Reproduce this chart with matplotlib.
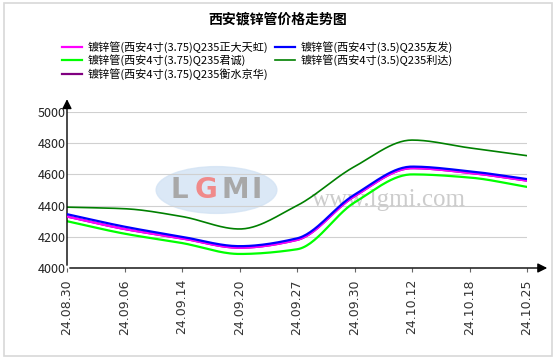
import numpy as np
import matplotlib.pyplot as plt
from matplotlib.patches import Ellipse, Rectangle

plt.rcParams['font.family'] = ['Noto Sans CJK SC', 'DejaVu Sans']

dates = ['24.08.30', '24.09.06', '24.09.14', '24.09.20', '24.09.27',
         '24.09.30', '24.10.12', '24.10.18', '24.10.25']
zhengda = [4330, 4250, 4190, 4130, 4180, 4460, 4640, 4610, 4560]
youfa = [4345, 4265, 4200, 4140, 4190, 4470, 4650, 4620, 4570]
juncheng = [4300, 4220, 4160, 4090, 4120, 4420, 4600, 4580, 4520]
lida = [4390, 4380, 4330, 4250, 4400, 4650, 4820, 4770, 4720]
jinghua = [4330, 4250, 4190, 4130, 4180, 4460, 4640, 4610, 4560]

names = ['镀锌管(西安4寸(3.75)Q235正大天虹)', '镀锌管(西安4寸(3.5)Q235友发)',
         '镀锌管(西安4寸(3.75)Q235君诚)', '镀锌管(西安4寸(3.5)Q235利达)',
         '镀锌管(西安4寸(3.75)Q235衡水京华)']
colors = ['#ff00ff', '#0000ff', '#00ff00', '#008000', '#800080']


def smooth(y, n=30):
    # monotone cubic hermite, just for drawing the curve between points
    y = np.asarray(y, float)
    x = np.arange(len(y))
    d = np.diff(y)
    m = np.zeros(len(y))
    m[0], m[-1] = d[0], d[-1]
    for i in range(1, len(y) - 1):
        if d[i - 1] * d[i] > 0:
            m[i] = 2 / (1 / d[i - 1] + 1 / d[i])
    xs, ys = [], []
    for i in range(len(y) - 1):
        t = np.linspace(0, 1, n, endpoint=False)
        h00 = 2 * t**3 - 3 * t**2 + 1
        h10 = t**3 - 2 * t**2 + t
        h01 = -2 * t**3 + 3 * t**2
        h11 = t**3 - t**2
        xs.append(x[i] + t)
        ys.append(h00 * y[i] + h10 * m[i] + h01 * y[i + 1] + h11 * m[i + 1])
    xs.append([x[-1]])
    ys.append([y[-1]])
    return np.concatenate(xs), np.concatenate(ys)


fig = plt.figure(figsize=(5.56, 3.59), dpi=100)
fig.patches.append(Rectangle((4 / 556, 3 / 359), 548 / 556, 353 / 359, transform=fig.transFigure,
                             fill=False, ec='#d8d8d8', lw=1.2))
ax = fig.add_axes([67 / 556, (359 - 268) / 359, 460 / 556, 156 / 359])

# watermark
ax.add_patch(Ellipse((2.6, 4500), 2.1, 300, color='#d3e3f4', alpha=0.8, zorder=0))
wm = [('L', '#a8a8a8', 1.95), ('G', '#f08a8a', 2.42), ('M', '#a8a8a8', 2.92), ('I', '#a8a8a8', 3.3)]
for ch, c, xp in wm:
    ax.text(xp, 4500, ch, ha='center', va='center', fontsize=20, color=c,
            family='DejaVu Sans', weight='bold', zorder=0)
ax.text(5.6, 4435, 'www.lgmi.com', ha='center', va='center', fontsize=18, color='#cccccc',
        family='Liberation Serif', zorder=0)

series = [zhengda, youfa, juncheng, lida, jinghua]
handles = []
for vals, name, c, z in zip(series, names, colors, [4, 5, 3, 3, 2]):
    xs, ys = smooth(vals)
    h, = ax.plot(xs, ys, color=c, lw=1.2 if c == '#008000' else 1.6, label=name, zorder=z)
    handles.append(h)

ax.set_xlim(0, 8)
ax.set_ylim(4000, 5000)
ax.set_yticks(range(4000, 5001, 200))
ax.grid(axis='y', color='#d0d0d0', lw=0.8)
ax.set_axisbelow(True)
ax.set_xticks(range(len(dates)))
ax.set_xticklabels(dates, rotation=90, fontsize=9, family='DejaVu Sans', color='#333333')
ax.tick_params(axis='y', labelsize=9, length=0, pad=1, labelcolor='#222222')
ax.tick_params(axis='x', length=3, color='#666666', pad=5)
for s in ax.spines.values():
    s.set_visible(False)

ax.annotate('', xy=(1.05, 0), xytext=(0, 0), xycoords='axes fraction',
            arrowprops=dict(arrowstyle='-|>', color='black', lw=1, mutation_scale=14), annotation_clip=False)
ax.annotate('', xy=(0, 1.1), xytext=(0, 0), xycoords='axes fraction',
            arrowprops=dict(arrowstyle='-|>', color='black', lw=1, mutation_scale=14), annotation_clip=False)

fig.text(0.5, 1 - 20 / 359, '西安镀锌管价格走势图', ha='center', va='center', fontsize=10, weight='bold')
order = [0, 2, 4, 1, 3]
fig.legend([handles[i] for i in order], [names[i] for i in order], ncol=2,
           loc='upper left', bbox_to_anchor=(62 / 556, 1 - 41 / 359), frameon=False,
           fontsize=8, handlelength=1.8, handletextpad=0.5, columnspacing=0.6,
           labelspacing=0.15, borderaxespad=0, borderpad=0)

fig.savefig('out.png', dpi=100)
